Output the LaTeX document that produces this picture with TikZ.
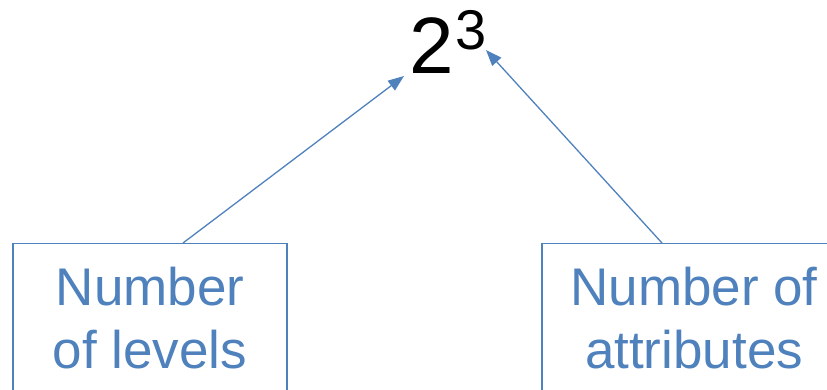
\documentclass[tikz,border=0pt]{standalone}
\usepackage{fontspec}
\setmainfont{Liberation Sans}
\usetikzlibrary{arrows.meta}
\definecolor{acc}{HTML}{4F81BD}
\tikzset{
  box/.style={draw=acc, line width=1.3pt, text=acc, align=center, inner xsep=0pt, inner ysep=23pt, anchor=north,
    font=\fontsize{53}{63}\selectfont},
  conn/.style={draw=acc, line width=1.3pt, -{Triangle[length=16pt,width=12pt]}},
}
\newcommand{\supfont}{\fontsize{56}{56}\selectfont}
\begin{document}
\begin{tikzpicture}[x=1pt,y=-1pt]
\useasboundingbox (0,0) rectangle (827,389);
\clip (0,0) rectangle (827,389);
\node[inner sep=0pt, anchor=base west, font=\fontsize{80}{80}\selectfont] (pow) at (409.5,73)
  {2\hspace{1pt}\raisebox{24pt}{\supfont 3}};
\node[box, minimum width=274pt] (lbox) at (150,243) {Number\\of levels\rule[-30pt]{0pt}{0pt}};
\node[box, minimum width=304pt] (rbox) at (694,243) {Number of\\attributes\rule[-30pt]{0pt}{0pt}};
\coordinate (ltip) at (404,76);
\coordinate (rtip) at (486,50);
\draw[conn] ([xshift=33pt]lbox.north) -- (ltip);
\draw[conn] ([xshift=-32pt]rbox.north) -- (rtip);
\end{tikzpicture}
\end{document}
